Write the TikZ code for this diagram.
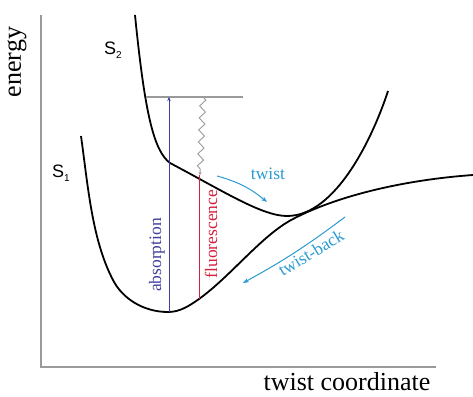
\documentclass[tikz,border=0pt]{standalone}
\usepackage{fontspec}
\setmainfont{Liberation Serif}
\newfontfamily\sflab{Liberation Sans}
\usetikzlibrary{decorations.pathmorphing,arrows.meta}
\definecolor{axisgray}{HTML}{9A9A9A}
\definecolor{absblue}{HTML}{40409C}
\definecolor{fluored}{HTML}{D4203C}
\definecolor{twistblue}{HTML}{2A9AD0}
\begin{document}
\begin{tikzpicture}[x=1pt,y=-1pt,
  curve/.style={line width=1.8pt, black, line join=round},
  axisline/.style={axisgray, line width=1.3pt},
  lbl/.style={font=\fontsize{17.5}{20}\selectfont, inner sep=0pt},
  axlbl/.style={font=\fontsize{26}{30}\selectfont, inner sep=0pt},
  slbl/.style={font=\sflab\fontsize{18}{20}\selectfont, inner sep=0pt},
  arrowline/.style={twistblue, line width=1pt, -{Stealth[length=6pt,width=4.5pt]}}]
\useasboundingbox (0,0) rectangle (473,396);
% axes
\coordinate (ytop) at (41,15);
\coordinate (origin) at (41,367);
\coordinate (xend) at (436,367);
\draw[axisline] (ytop) -- (origin) -- (xend);
\node[axlbl, rotate=90] (energy) at (17,62) {energy};
\node[axlbl, anchor=base] (xlabel) at (347,390) {twist coordinate};
% S2 curve
\draw[curve] (135,15) .. controls (145,115) and (154,151) .. (170,163)
  .. controls (223,191) and (262,216) .. (287,216)
  .. controls (337,216) and (374,134) .. (388,91);
% S1 curve
\draw[curve] (81,136) .. controls (88,186) and (92,240) .. (113,280)
  .. controls (122,298) and (143,312) .. (168,312)
  .. controls (180,312) and (189,306) .. (199,299)
  .. controls (231,276) and (262,235) .. (293,219)
  .. controls (337,196) and (403,180) .. (473,175);
% labels S
\node[slbl, anchor=base west] (s2) at (104,55) {S\raisebox{-3.5pt}{\fontsize{10}{10}\selectfont 2}};
\node[slbl, anchor=base west] (s1) at (52,177) {S\raisebox{-4pt}{\fontsize{10}{10}\selectfont 1}};
% vibrational level line
\coordinate (lvlL) at (146,97);
\coordinate (lvlR) at (243,97);
\draw[axisgray, line width=1.1pt] (lvlL) -- (lvlR);
% absorption
\coordinate (absB) at (169,312);
\coordinate (absT) at (169,97);
\draw[absblue, line width=1pt, -{Stealth[length=4pt,width=3.5pt]}] (absB) -- (absT);
\node[lbl, rotate=90, text=absblue] (abs) at (157,255) {absorption};
% relaxation wavy
\coordinate (wavT) at (203,97);
\coordinate (wavB) at (200,175);
\draw[axisgray, line width=0.9pt, decorate, decoration={zigzag, segment length=12pt, amplitude=3pt, post length=3pt}, -{Stealth[length=3pt,width=3pt]}] (wavT) -- (wavB);
% fluorescence
\coordinate (fluT) at (199,175);
\coordinate (fluB) at (199,299);
\draw[fluored, line width=1pt] (fluT) -- (fluB);
\node[lbl, rotate=90, text=fluored] (flu) at (211,234) {fluorescence};
% twist arrow
\coordinate (twA) at (217,176);
\coordinate (twB) at (267,202);
\draw[arrowline] (twA) to[bend left=12] (twB);
\node[lbl, text=twistblue] (tw) at (268,174) {twist};
% twist-back arrow
\coordinate (tbA) at (345,217);
\coordinate (tbB) at (243,283);
\draw[arrowline] (tbA) to[bend left=4] (tbB);
\node[lbl, rotate=31, text=twistblue] (tb) at (311,253) {twist-back};
\end{tikzpicture}
\end{document}
